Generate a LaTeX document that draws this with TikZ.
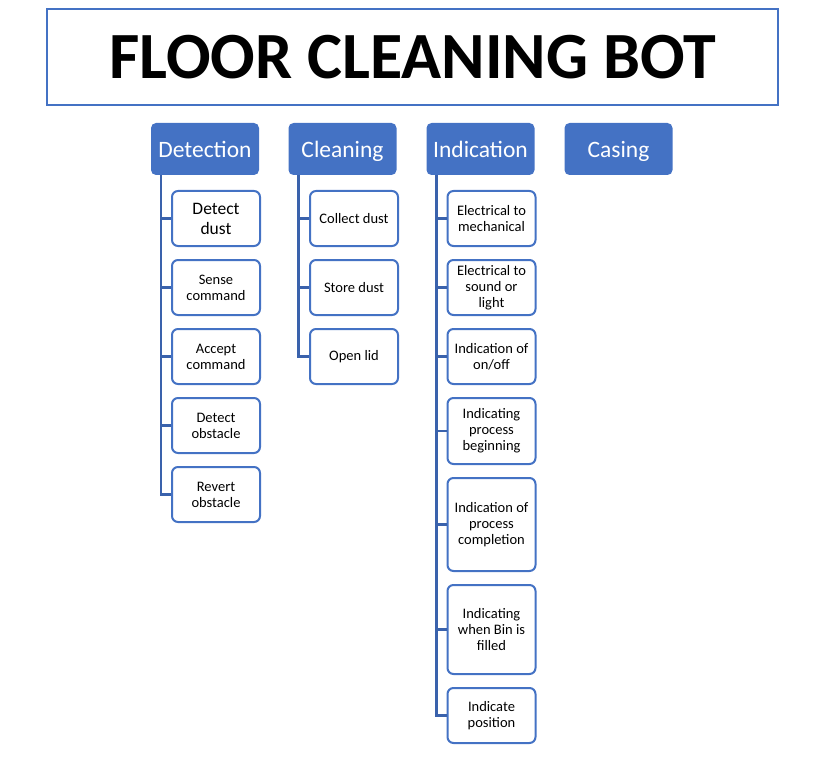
\documentclass[tikz,border=0pt]{standalone}
\usepackage{fontspec}
\setmainfont{Carlito}
\usetikzlibrary{positioning}
\definecolor{smblue}{HTML}{4472C4}
\definecolor{smline}{HTML}{3A62AC}

\begin{document}
\begin{tikzpicture}[x=1pt, y=-1pt, node distance=12pt,
    titlebox/.style={rectangle, draw=smblue, line width=2pt, minimum width=731pt, minimum height=96pt, font=\fontsize{66}{70}\selectfont\bfseries},
    headbox/.style={rectangle, rounded corners=5pt, fill=smblue, text=white, minimum width=108pt, minimum height=52pt, text height=20pt, text depth=3pt, font=\fontsize{23.5}{26}\selectfont},
    itembox/.style={rectangle, rounded corners=6pt, draw=smblue, line width=2pt, fill=white, minimum width=88pt, minimum height=55pt, align=center, font=\fontsize{14.5}{16}\selectfont},
    link/.style={draw=smline, line width=2.4pt}]
      \useasboundingbox (0,0) rectangle (825,765);

      % title
      \node[titlebox] (title) at (412.5,57) {FLOOR CLEANING BOT};

      % main functions
      \node[headbox] (det) at (205,149) {Detection};
      \node[headbox] (cln) at (342.5,149) {Cleaning};
      \node[headbox] (ind) at (480.5,149) {Indication};
      \node[headbox] (cas) at (618.5,149) {Casing};

      % detection items
      \node[itembox, font=\fontsize{17.5}{20}\selectfont] (dust) at (216,218.5) {Detect\\dust};
      \node[itembox, below=of dust] (sense) {Sense\\command};
      \node[itembox, below=of sense] (accept) {Accept\\command};
      \node[itembox, below=of accept] (obst) {Detect\\obstacle};
      \node[itembox, below=of obst] (revert) {Revert\\obstacle};

      % cleaning items
      \node[itembox] (collect) at (354,218.5) {Collect dust};
      \node[itembox, below=of collect] (store) {Store dust};
      \node[itembox, below=of store] (lid) {Open lid};

      % indication items
      \node[itembox] (mech) at (491.5,218.5) {Electrical to\\mechanical};
      \node[itembox, below=of mech] (sound) {Electrical to\\sound or\\light};
      \node[itembox, below=of sound] (onoff) {Indication of\\on/off};
      \node[itembox, below=of onoff, minimum height=66pt] (begin) {Indicating\\process\\beginning};
      \node[itembox, below=of begin, minimum height=93pt] (compl) {Indication of\\process\\completion};
      \node[itembox, below=of compl, minimum height=89pt] (bin) {Indicating\\when Bin is\\filled};
      \node[itembox, below=of bin] (pos) {Indicate\\position};

      % tree lines
      \foreach \c in {dust,sense,accept,obst,revert}
        \draw[link] ([xshift=10pt]det.south west) |- (\c.west);
      \foreach \c in {collect,store,lid}
        \draw[link] ([xshift=10pt]cln.south west) |- (\c.west);
      \foreach \c in {mech,sound,onoff,begin,compl,bin,pos}
        \draw[link] ([xshift=10pt]ind.south west) |- (\c.west);
\end{tikzpicture}
\end{document}
